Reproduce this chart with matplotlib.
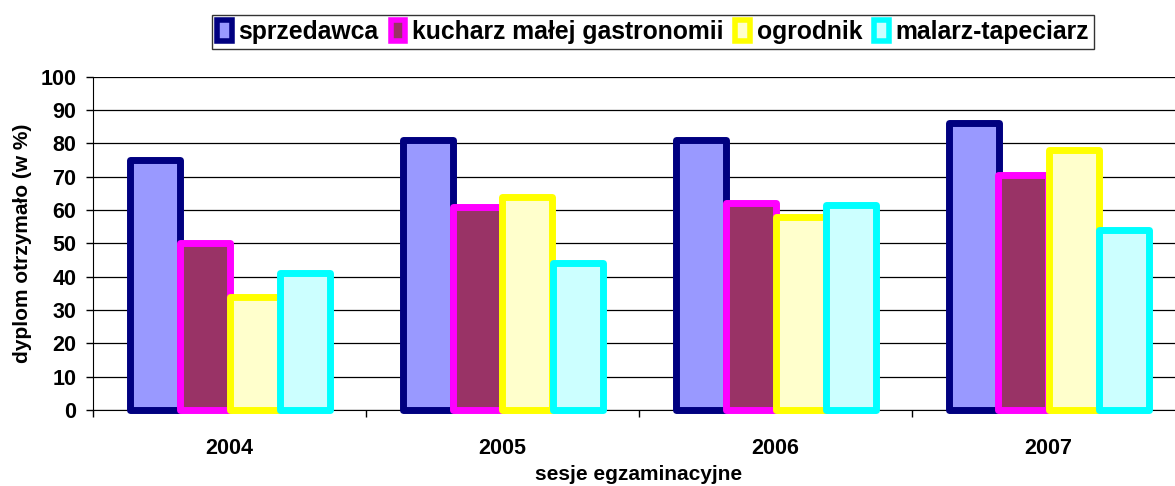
import matplotlib
matplotlib.use("Agg")
import matplotlib.pyplot as plt
from matplotlib.patches import Patch
import numpy as np

plt.rcParams['font.family'] = ['Liberation Sans', 'DejaVu Sans']
plt.rcParams['font.weight'] = 'bold'

years = ["2004", "2005", "2006", "2007"]
series = ["sprzedawca", "kucharz małej gastronomii", "ogrodnik", "malarz-tapeciarz"]
sprzedawca = [75, 81, 81, 86]
kucharz = [50, 61, 62, 70.5]
ogrodnik = [34, 64, 58, 78]
malarz = [41, 44, 61.5, 54]
values = [sprzedawca, kucharz, ogrodnik, malarz]

faces = ["#9999FF", "#993366", "#FFFFCC", "#CCFFFF"]
edges = ["#000080", "#FF00FF", "#FFFF00", "#00FFFF"]

fig = plt.figure(figsize=(11.75, 4.86), dpi=100)
ax = fig.add_axes([93 / 1175, 76 / 486, 1092 / 1175, 333.3 / 486])

x = np.arange(len(years))
w = 50 / 273
for i, vals in enumerate(values):
    bars = ax.bar(x + (i - 1.5) * w, vals, width=w, color=faces[i],
                  edgecolor=edges[i], linewidth=5, joinstyle='round',
                  zorder=3)
    for b in bars:
        b.set_clip_on(False)

ax.set_xlim(-0.5, 3.5)
ax.set_ylim(0, 100)
ax.set_yticks(range(0, 101, 10))
ax.yaxis.grid(True, color='black', linewidth=0.9, zorder=0)
ax.set_axisbelow(True)

ax.set_xticks(x)
ax.set_xticklabels(years)
ax.set_xticks(np.arange(-0.5, 4, 1), minor=True)
ax.tick_params(axis='x', which='major', length=0, pad=20, labelsize=15.5)
ax.tick_params(axis='x', which='minor', length=5, width=1, direction='out')
ax.tick_params(axis='y', length=5, width=1, pad=7, labelsize=15.5)

for s in ['top', 'right']:
    ax.spines[s].set_visible(False)
ax.spines['left'].set_color('black')
ax.spines['bottom'].set_color('black')

ax.set_ylabel("dyplom otrzymało (w %)", fontsize=15, fontweight='bold')
ax.yaxis.set_label_coords(-0.056, 0.5)
ax.set_xlabel("sesje egzaminacyjne", fontsize=15, fontweight='bold')
ax.xaxis.set_label_coords(0.5, -0.165)

handles = [Patch(facecolor=faces[i], edgecolor=edges[i], linewidth=4)
           for i in range(len(series))]
leg = fig.legend(handles, series, loc='center', ncol=4,
                 bbox_to_anchor=(653 / 1175, 1 - 32 / 486),
                 fontsize=17.8, frameon=True, fancybox=False,
                 edgecolor='black', handlelength=0.6, handleheight=0.9,
                 handletextpad=0.25, columnspacing=0.5, borderpad=0.22,
                 borderaxespad=0)
leg.get_frame().set_linewidth(1)
for t in leg.get_texts():
    t.set_fontweight('bold')

fig.savefig("out.png", dpi=100)
